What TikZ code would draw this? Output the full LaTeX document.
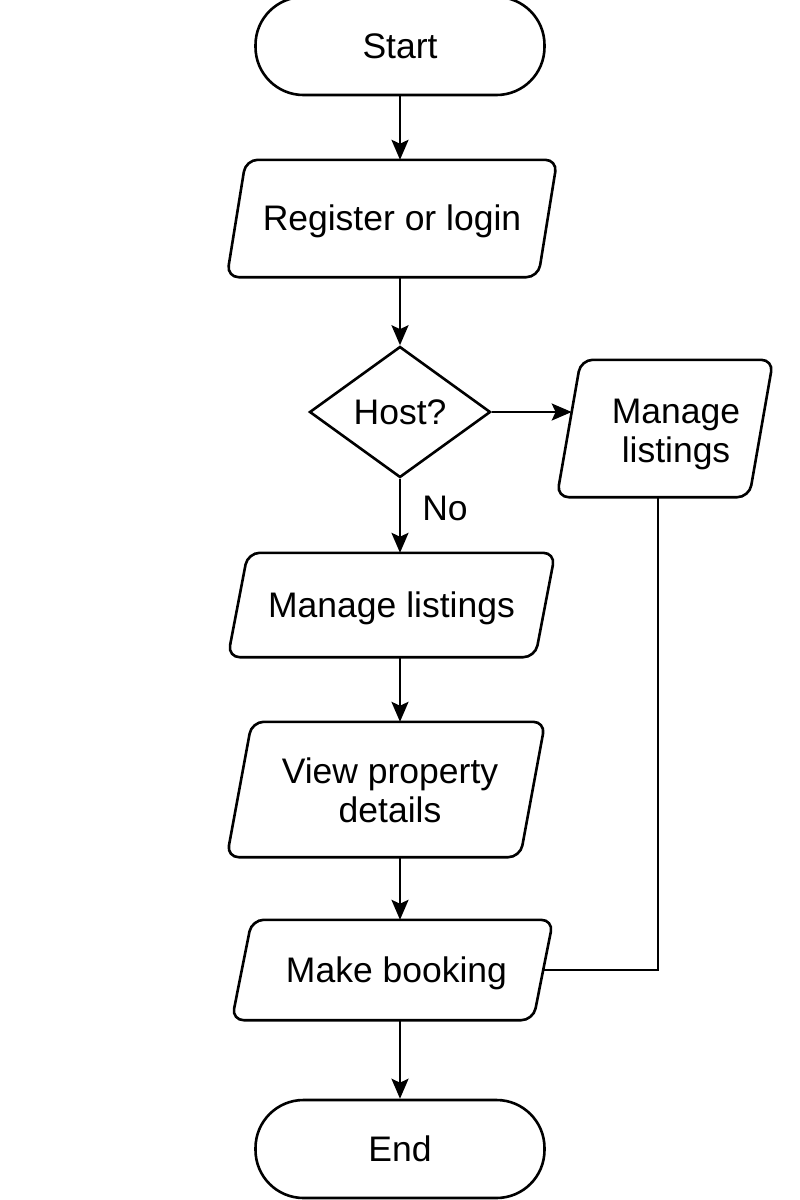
\documentclass[tikz,border=0pt]{standalone}
\usepackage{fontspec}
\setmainfont{Liberation Sans}
\usetikzlibrary{shapes.geometric,arrows.meta,calc}
\newcommand\drawpara[2]{\draw[line, rounded corners=12pt] ([xshift=#2]#1.north west) -- (#1.north east) -- ([xshift=-#2]#1.south east) -- (#1.south west) -- cycle;}
\newcommand\txtat[2]{\smash{\raisebox{#1}{#2}}}
\begin{document}
\begin{tikzpicture}[x=1pt,y=-1pt,
  every node/.style={font=\fontsize{35.5}{39.5}\selectfont},
  line/.style={line width=2.6pt, draw=black},
  flow/.style={line, -{Stealth[length=20pt,width=17pt,inset=4pt]}},
  terminal/.style={line, rectangle, rounded corners=48pt, minimum width=289pt, minimum height=98pt, inner sep=0pt},
  io/.style={rectangle, inner sep=0pt, align=center},
  decision/.style={line, diamond, aspect=1.37, minimum width=181pt, minimum height=131pt, inner sep=2pt},
  lbl/.style={inner sep=0pt}
]
\useasboundingbox (0,0) rectangle (800,1200);
\node[terminal] (start) at (400,46) {Start};
\node[io, minimum width=330pt, minimum height=117pt] (reg) at (392,218.5) {\txtat{-12pt}{Register or login}};
\drawpara{reg}{19pt}
\node[decision] (host) at (400,412) {Host?};
\node[io, minimum width=216pt, minimum height=137pt] (rb) at (665,428.5) {\hspace*{22pt}\txtat{5.5pt}{\begin{tabular}[t]{@{}c@{}}Manage\\listings\end{tabular}}};
\drawpara{rb}{24pt}
\node[io, minimum width=327pt, minimum height=104pt] (ml) at (391.5,605) {\txtat{-12pt}{Manage listings}};
\drawpara{ml}{20pt}
\node[io, minimum width=318pt, minimum height=135pt] (vp) at (386,789.5) {\hspace*{8pt}\txtat{6.5pt}{\begin{tabular}[t]{@{}c@{}}View property\\details\end{tabular}}};
\drawpara{vp}{25pt}
\node[io, minimum width=321pt, minimum height=100pt] (mb) at (392.5,970) {\hspace*{8pt}\txtat{-12pt}{Make booking}};
\drawpara{mb}{20pt}
\node[terminal] (end) at (400,1149) {End};
\coordinate (rbin) at ($(rb.south west)!0.62!([xshift=24pt]rb.north west)$);
\coordinate (mbin) at ($(mb.south east)!0.5!([xshift=-20pt]mb.north east)$);
\coordinate (rbout) at (658,497);

\draw[flow] (start.south) -- (start.south |- reg.north);
\draw[flow] (reg.south -| host.north) -- (host.north);
\draw[flow] (host.east) -- (host.east -| rbin);
\draw[flow] (host.south) -- node[lbl, pos=0.4, right, xshift=21pt] (no) {No} (host.south |- ml.north);
\draw[flow] (ml.south -| host.south) -- (host.south |- vp.north);
\draw[flow] (vp.south -| host.south) -- (host.south |- mb.north);
\draw[flow] (mb.south -| host.south) -- (end.north);
\draw[line] (rbout |- rb.south) |- (mbin);
\end{tikzpicture}
\end{document}
